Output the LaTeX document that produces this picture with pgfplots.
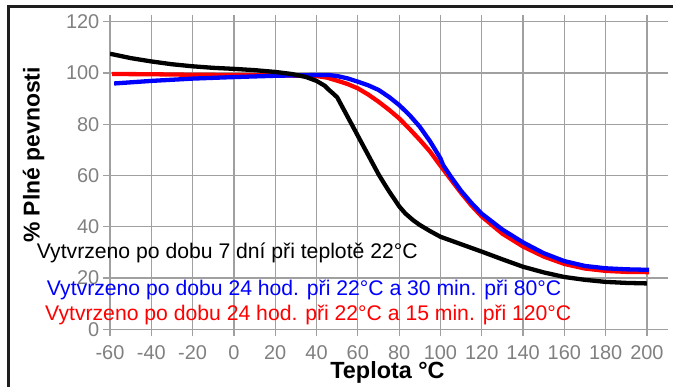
\documentclass[border=0pt]{standalone}
\usepackage{pgfplots}
\pgfplotsset{compat=1.18}
\usepackage{fontspec}
\setmainfont{Liberation Sans}
\definecolor{gridgray}{RGB}{160,160,160}
\definecolor{labgray}{RGB}{128,128,128}
\definecolor{pblue}{RGB}{0,0,255}
\definecolor{pred}{RGB}{255,0,0}
\definecolor{frame}{RGB}{30,30,30}
\pgfplotstableread{
x y
-60 107.5
-50 105.8
-40 104.5
-30 103.4
-20 102.6
-10 102.0
0 101.6
10 101.1
20 100.4
28 99.6
35 98.4
40 96.9
44 95.0
46 93.4
48 92.0
50 90.5
55 83.0
60 75.5
65 68.0
70 60.5
72.5 57.2
75 54.0
77.5 51.0
80 48.0
83 45.2
86.7 42.6
90 40.7
95 38.3
100 36.1
110 33.2
120 30.3
130 27.3
140 24.4
150 22.2
160 20.4
170 19.3
180 18.5
190 18.1
200 17.9
}\blackdata
\pgfplotstableread{
x y
-58 95.9
-40 96.9
-20 97.8
0 98.4
20 98.9
40 99.2
46 99.2
50 98.8
55 97.9
60 96.6
65 95.2
70 93.4
75 90.7
80 87.5
85 83.6
90 79.0
95 73.3
100 66.7
101.3 64.1
105 59.6
110 54.0
115 49.3
120 45.1
130 38.9
140 33.9
150 29.7
160 26.6
170 24.7
180 23.8
190 23.4
201 23.2
}\bluedata
\pgfplotstableread{
x y
-59 99.6
-40 99.5
-20 99.3
0 99.2
20 99.1
40 98.8
45 98.2
50 97.0
55 95.7
60 94.0
65 91.6
70 88.8
75 85.7
80 82.3
85 78.2
90 73.9
95 69.3
100 63.8
105 58.5
110 53.2
115 48.3
120 44.0
130 37.3
140 32.3
150 28.4
160 25.5
170 23.7
180 22.8
190 22.4
201 22.3
}\reddata
\begin{document}
\begin{tikzpicture}[x=1bp,y=1bp]
\useasboundingbox (0,0) rectangle (673,386);
\begin{axis}[at={(110bp,56.7bp)}, anchor=south west, scale only axis,
  width=557.6bp, height=307.6bp,
  xmin=-60, xmax=210, ymin=0, ymax=120,
  xtick={-60,-40,-20,0,20,40,60,80,100,120,140,160,180,200},
  xticklabels={-60,-40,-20,0,20,40,60,80,100,120,140,160,180,200},
  ytick={0,20,40,60,80,100,120},
  yticklabels={0,20,40,60,80,100,120},
  grid=major, major grid style={draw=gridgray, line width=1.2bp},
  axis line style={draw=none},
  tick align=outside, major tick length=7bp, xtick pos=both, ytick pos=left,
  tick style={draw=gridgray, line width=1.2bp},
  tick label style={font=\fontsize{20}{20}\selectfont, text=labgray, inner sep=0pt},
  yticklabel style={xshift=-3.5bp},
  xticklabel style={yshift=-8.7bp},
]
\addplot[pred, line width=4.3bp, line join=round] table[x=x,y=y] {\reddata};
\addplot[pblue, line width=4.3bp, line join=round] table[x=x,y=y] {\bluedata};
\addplot[black, line width=4.3bp, line join=round] table[x=x,y=y] {\blackdata};
\end{axis}
\draw[line width=2.5bp, frame] (8.7,-5) -- (8.7,379.7) -- (690,379.7);
\node[rotate=90, font=\bfseries\fontsize{23}{23}\selectfont] at (33.5,231) {\% Plné pevnosti};
\node[anchor=base, font=\bfseries\fontsize{23.5}{23.5}\selectfont] at (387.5,8) {Teplota °C};
\node[anchor=base west, inner sep=0pt, font=\fontsize{21.25}{21.25}\selectfont, text=black] at (36.7,127.7) {Vytvrzeno po dobu 7 dní při teplotě 22°C};
\node[anchor=base west, inner sep=0pt, font=\fontsize{21.25}{21.25}\selectfont, text=pblue] at (46.7,91) {Vytvrzeno po dobu 24 hod. při 22°C a 30 min. při 80°C};
\node[anchor=base west, inner sep=0pt, font=\fontsize{21.25}{21.25}\selectfont, text=pred] at (45,65.3) {Vytvrzeno po dobu 24 hod. při 22°C a 15 min. při 120°C};
\end{tikzpicture}
\end{document}
